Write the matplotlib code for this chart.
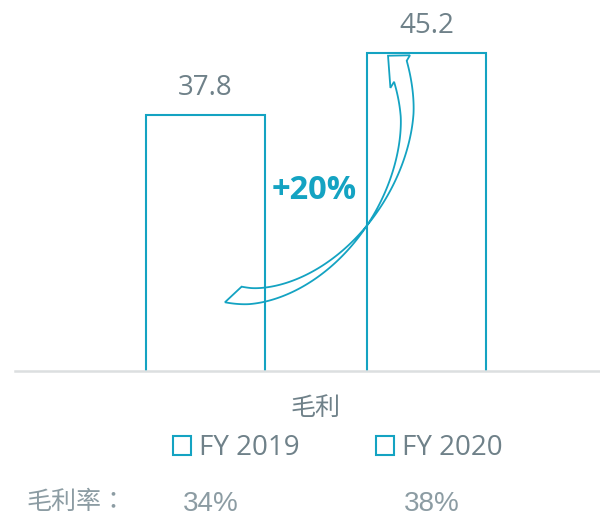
import numpy as np
import matplotlib
matplotlib.use("Agg")
import matplotlib.pyplot as plt
from matplotlib.patches import Patch, Polygon

# ---- data ----
series = ["FY 2019", "FY 2020"]
category = "毛利"
gross_profit = [37.8, 45.2]
margin_label = "毛利率："
gross_margin = ["34%", "38%"]
growth_label = "+20%"

TEAL = "#14a3c2"
GREY = "#6f8189"
LIGHT_GREY = "#8c9ca3"
AXIS_GREY = "#dcdfe0"

W, H = 600, 517
fig = plt.figure(figsize=(W / 100, H / 100), dpi=100)


def fx(x):
    return x / W


def fy(y):
    return 1 - y / H


# main plotting area: baseline near the bottom third, bars rising from it
ax = fig.add_axes([fx(15), fy(371), fx(585), 371 / H])
ax.set_xlim(-0.862, 1.785)
ax.set_ylim(7.25, 51.5)

xpos = np.arange(len(series))
bars = ax.bar(xpos, gross_profit, width=0.538, facecolor="white",
              edgecolor=TEAL, linewidth=1.5, zorder=2)

for rect, val in zip(bars, gross_profit):
    ax.annotate(f"{val:.1f}", (rect.get_x() + rect.get_width() / 2, val),
                xytext=(0, 27), textcoords="offset pixels",
                ha="center", va="center", fontsize=20, color=GREY,
                family="Open Sans")

for s in ["top", "left", "right"]:
    ax.spines[s].set_visible(False)
ax.spines["bottom"].set_color(AXIS_GREY)
ax.spines["bottom"].set_linewidth(1.8)
ax.spines["bottom"].set_zorder(3)
ax.set_xticks([])
ax.set_yticks([])

# ---- curved growth arrow: a twisting ribbon along a squashed ellipse ----
cx, cy, A, B, p = 250.0, 115.0, 157.0, 181.0, 1.8
theta_start = np.radians(-7.8)
theta_end = np.radians(105.9)
theta = np.radians(np.linspace(-25.0, 125.0, 500))
s, c = np.sin(theta), np.cos(theta)
xc = cx + A * np.sign(s) * np.abs(s) ** (2 / p)
yc = cy + B * np.sign(c) * np.abs(c) ** (2 / p)
dx, dy = np.gradient(xc), np.gradient(yc)
norm = np.hypot(dx, dy)
tx, ty = dx / norm, dy / norm
nx, ny = -ty, tx
deg = np.degrees(theta)
hw = 9.3 * (50.1 - deg) / (50.1 + 7.8)
edge1 = np.column_stack([xc + hw * nx, yc + hw * ny])
edge2 = np.column_stack([xc - hw * nx, yc - hw * ny])


def rotate(v, ang_deg):
    a = np.radians(ang_deg)
    return np.array([v[0] * np.cos(a) - v[1] * np.sin(a),
                     v[0] * np.sin(a) + v[1] * np.cos(a)])


def cut_line(theta_at, skew):
    """Point on the centre line plus a skewed cut direction and its
    forward-facing normal."""
    k = np.searchsorted(theta, theta_at)
    pt = np.array([xc[k], yc[k]])
    tang = np.array([tx[k], ty[k]])
    u = rotate(np.array([nx[k], ny[k]]), skew)
    f = np.array([-u[1], u[0]])
    if f @ tang < 0:
        f = -f
    return pt, tang, u, f


p0, t0, u0, f0 = cut_line(theta_start, 36)
pm, tang, u, f = cut_line(theta_end, -43)
mid_idx = np.searchsorted(theta, np.radians(50))


def clip_edge(edge):
    # tail: drop everything behind the slanted tail cut
    d0 = (edge[:mid_idx] - p0) @ f0
    i = np.argmax(d0 > 0)
    t = d0[i - 1] / (d0[i - 1] - d0[i])
    first = edge[i - 1] + t * (edge[i] - edge[i - 1])
    # head: stop at the slanted head base
    d = (edge - pm) @ f
    j = mid_idx + np.argmax(d[mid_idx:] > 0)
    t = d[j - 1] / (d[j - 1] - d[j])
    last = edge[j - 1] + t * (edge[j] - edge[j - 1])
    return np.vstack([first, edge[i:j], last])


e1 = clip_edge(edge1)
e2 = clip_edge(edge2)
# order wings so each attaches next to its own ribbon edge
w_a, w_b = pm + 19 * u, pm - 19 * u
if np.hypot(*(e1[-1] - w_a)) > np.hypot(*(e1[-1] - w_b)):
    w_a, w_b = w_b, w_a
tip_dir = f + tang
tip_dir /= np.hypot(*tip_dir)
tip = pm + 20 * tip_dir
outline = np.vstack([e1, w_a, tip, w_b, e2[::-1]])
outline_fig = np.column_stack([fx(outline[:, 0]), fy(outline[:, 1])])
fig.patches.append(Polygon(outline_fig, closed=True, transform=fig.transFigure,
                           facecolor="none", edgecolor=TEAL, linewidth=1.3,
                           joinstyle="miter", zorder=5))

fig.text(fx(314), fy(191), growth_label, ha="center", va="center",
         fontsize=23.5, fontweight="bold", color=TEAL, family="Open Sans")

# ---- category label ----
fig.text(fx(315), fy(408), category, ha="center", va="center",
         fontsize=18, color=GREY, family=["Noto Sans CJK SC", "DejaVu Sans"],
         fontweight="light")

# ---- legend ----
handles = [Patch(facecolor="white", edgecolor=TEAL, linewidth=1.5, label=s)
           for s in series]
leg = fig.legend(handles=handles, loc="center left",
                 bbox_to_anchor=(fx(173), fy(448)), ncol=2, frameon=False,
                 handlelength=0.65, handleheight=0.68, handletextpad=0.3,
                 columnspacing=2.73, borderpad=0, borderaxespad=0,
                 prop={"family": "Open Sans", "size": 20})
for t in leg.get_texts():
    t.set_color(GREY)

# ---- gross margin row ----
fig.text(fx(27), fy(502), margin_label, ha="left", va="center",
         fontsize=18, color=LIGHT_GREY,
         family=["Noto Sans CJK TC", "DejaVu Sans"], fontweight="light")
for rect, m in zip(bars, gross_margin):
    xc_bar = rect.get_x() + rect.get_width() / 2
    ax.annotate(m, (xc_bar, 0), xycoords=("data", "figure fraction"),
                xytext=(5, fy(511) * H), textcoords="offset pixels",
                ha="center", va="baseline", fontsize=20, color=LIGHT_GREY,
                family="Liberation Sans", annotation_clip=False)

fig.savefig("out.png", dpi=100)
